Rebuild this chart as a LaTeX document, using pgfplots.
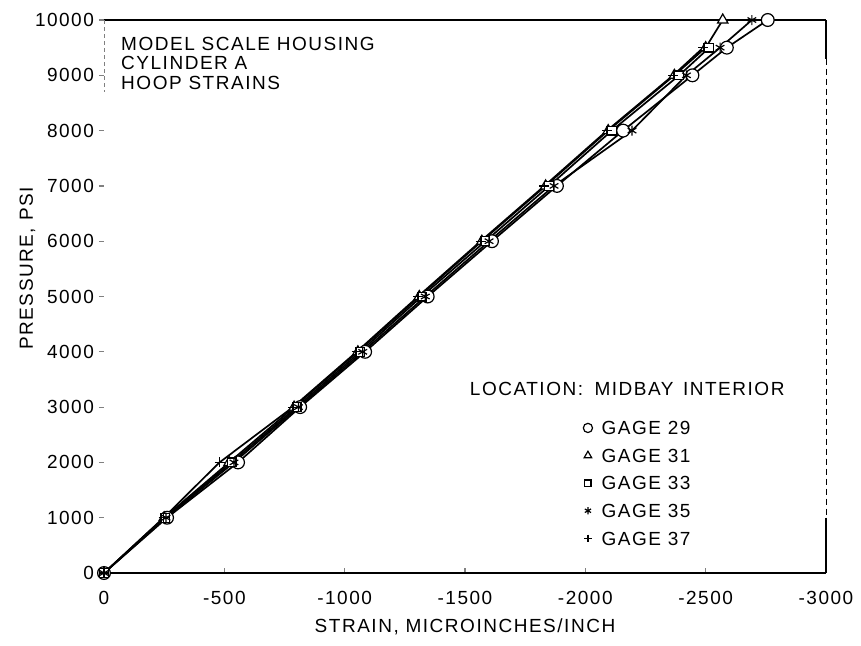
\documentclass[border=0pt]{standalone}
\usepackage{pgfplots}
\pgfplotsset{compat=1.18}
\usepackage{fontspec}
\setmainfont{Liberation Sans}[LetterSpace=8]
\pgfplotstableread{
x y
0 0
-262 1000
-557 2000
-815 3000
-1085 4000
-1345 5000
-1612 6000
-1882 7000
-2157 8000
-2445 9000
-2588 9500
-2758 10000
}\gageA
\pgfplotstableread{
x y
0 0
-250 1000
-520 2000
-790 3000
-1055 4000
-1310 5000
-1570 6000
-1835 7000
-2095 8000
-2370 9000
-2500 9500
-2571 10000
}\gageB
\pgfplotstableread{
x y
0 0
-255 1000
-530 2000
-800 3000
-1065 4000
-1320 5000
-1585 6000
-1850 7000
-2110 8000
-2390 9000
-2515 9500
}\gageC
\pgfplotstableread{
x y
0 0
-258 1000
-540 2000
-808 3000
-1075 4000
-1335 5000
-1600 6000
-1870 7000
-2194 8000
-2420 9000
-2560 9500
-2692 10000
}\gageD
\pgfplotstableread{
x y
0 0
-248 1000
-480 2000
-785 3000
-1050 4000
-1305 5000
-1565 6000
-1830 7000
-2090 8000
-2365 9000
-2490 9500
}\gageE
\begin{document}
\begin{tikzpicture}[font=\fontsize{9.5}{11}\selectfont]
\begin{axis}[
  name=ax,
  scale only axis, width=361pt, height=276.5pt,
  xmin=-3000, xmax=0, x dir=reverse,
  ymin=0, ymax=10000,
  scaled x ticks=false, scaled y ticks=false,
  clip=false,
  axis line style={draw=none},
  xtick={0,-500,-1000,-1500,-2000,-2500,-3000},
  xticklabels={0,-500,-1000,-1500,-2000,-2500,-3000},
  ytick={0,1000,2000,3000,4000,5000,6000,7000,8000,9000,10000},
  yticklabels={0,1000,2000,3000,4000,5000,6000,7000,8000,9000,10000},
  xtick pos=bottom, ytick pos=left,
  tick align=outside,
  major tick length=2.5pt,
  xtick style={yshift=2.5pt, line width=0.6pt},
  ytick style={line width=0.6pt},
  xticklabel style={yshift=-3pt},
  yticklabel style={xshift=1pt},
  xlabel={STRAIN, MICROINCHES/INCH},
  ylabel={PRESSURE, PSI},
  xlabel style={yshift=0pt},
  ylabel style={yshift=-7pt, xshift=14pt},
  legend cell align=left,
  legend image code/.code={\draw[#1, every mark/.append style={scale=0.72}] plot[only marks] coordinates {(0pt,0pt)};},
  legend style={at={(axis cs:-1990,2880)}, anchor=north west, draw=none, fill=none,
    inner sep=0pt, row sep=0pt,
    nodes={text height=6.8pt, text depth=0pt, inner ysep=3.5pt, inner xsep=4.5pt}},
  every axis plot/.append style={black, line width=0.85pt, mark options={solid, fill=white, line width=0.6pt}},
]
\addplot[mark=*, mark size=3.2pt] table {\gageA};
\addplot[mark=triangle*, mark size=3pt] table {\gageB};
\addplot[mark=square*, mark size=2.2pt] table {\gageC};
\addplot[mark=asterisk, mark size=2.5pt] table {\gageD};
\addplot[mark=+, mark size=2.5pt] table {\gageE};
\legend{GAGE 29, GAGE 31, GAGE 33, GAGE 35, GAGE 37}
% frame
\draw[line width=0.7pt] (rel axis cs:0,0) -- (rel axis cs:1,0);
\draw[line width=0.7pt] (rel axis cs:0,1) -- (rel axis cs:1,1);
\draw[line width=0.7pt] (rel axis cs:1,1) -- (rel axis cs:1,0.93);
\draw[line width=0.4pt, dash pattern=on 3pt off 2pt] (rel axis cs:1,0.93) -- (rel axis cs:1,0.1);
\draw[line width=0.6pt] (rel axis cs:1,0.1) -- (rel axis cs:1,0);
\draw[line width=0.4pt, gray, dash pattern=on 2pt off 1.5pt] (rel axis cs:0,1) -- (rel axis cs:0,0.87);
% texts
\node[anchor=north west, align=left, inner sep=0pt, font=\fontsize{9.5}{9.8}\selectfont]
  at (axis cs:-70,9700) {MODEL SCALE HOUSING\\CYLINDER A\\HOOP STRAINS};
\node[anchor=west, inner sep=0pt] at (axis cs:-1519,3330) {LOCATION:\hspace{0.6em}MIDBAY\hspace{0.5em}INTERIOR};
\end{axis}
\path (ax.south west) ++(-52pt,-36pt) coordinate (bl);
\path (ax.north east) ++(17.5pt,10pt) coordinate (tr);
\pgfresetboundingbox
\path[use as bounding box] (bl) rectangle (tr);
\end{tikzpicture}
\end{document}
